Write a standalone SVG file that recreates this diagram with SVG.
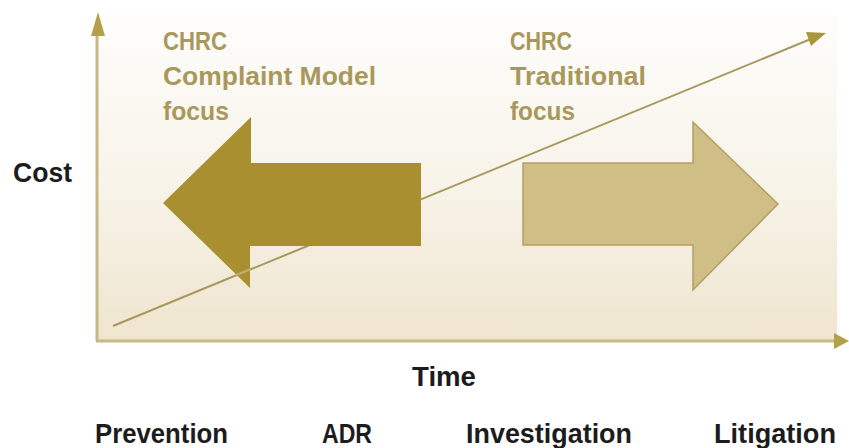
<svg xmlns="http://www.w3.org/2000/svg" width="849" height="448" viewBox="0 0 849 448">
<defs>
<linearGradient id="bg" x1="0" y1="0" x2="0" y2="1">
<stop offset="0" stop-color="#fefdfb"/>
<stop offset="0.5" stop-color="#f8f4ea"/>
<stop offset="1" stop-color="#efe5cf"/>
</linearGradient>
</defs>
<style>
.lbl{font-family:"Liberation Sans",Arial,sans-serif;font-weight:bold;font-size:28px;fill:#1c1c1c}
.foc{font-family:"Liberation Sans",Arial,sans-serif;font-weight:bold;font-size:26px;fill:#a8985c}
.axis{stroke:#c6b783;stroke-width:3;fill:none}
</style>
<rect x="97" y="15" width="740" height="326" fill="url(#bg)"/>
<g id="connectors">
<line x1="113" y1="326" x2="812" y2="38.5" stroke="#a8985c" stroke-width="2"/>
<polygon points="826,33 806,32 811,46" fill="#a8973a"/>
<line class="axis" x1="97" y1="341" x2="97" y2="32"/>
<polygon points="98,12 91,36 105,36" fill="#b5a04a"/>
<line class="axis" x1="96" y1="341" x2="836" y2="341"/>
<polygon points="849,341 834,333 834,349" fill="#b5a04a"/>
</g>
<g id="arrow-left">
<polygon points="163,203 251,117 251,163 421,163 421,246 250,246 250,288" fill="#a98f2f"/>
<line x1="236" y1="275" x2="251" y2="269" stroke="#c2b070" stroke-width="2"/>
</g>
<g id="arrow-right">
<polygon points="523,163 693,163 693,122 778,204 693,290 693,245 523,245" fill="#cfbf86" stroke="#b3a062" stroke-width="1.5"/>
</g>
<g id="label-complaint">
<text class="foc" x="163" y="50" textLength="64" lengthAdjust="spacingAndGlyphs">CHRC</text>
<text class="foc" x="163" y="85" textLength="213" lengthAdjust="spacingAndGlyphs">Complaint Model</text>
<text class="foc" x="163" y="120" textLength="66" lengthAdjust="spacingAndGlyphs">focus</text>
</g>
<g id="label-traditional">
<text class="foc" x="510" y="50" textLength="62" lengthAdjust="spacingAndGlyphs">CHRC</text>
<text class="foc" x="510" y="85" textLength="136" lengthAdjust="spacingAndGlyphs">Traditional</text>
<text class="foc" x="510" y="120" textLength="65" lengthAdjust="spacingAndGlyphs">focus</text>
</g>
<g id="label-cost"><text class="lbl" x="13" y="182" textLength="59" lengthAdjust="spacingAndGlyphs">Cost</text></g>
<g id="label-time"><text class="lbl" x="412" y="386" textLength="64" lengthAdjust="spacingAndGlyphs">Time</text></g>
<g id="label-prevention"><text class="lbl" x="95" y="443" textLength="133" lengthAdjust="spacingAndGlyphs">Prevention</text></g>
<g id="label-adr"><text class="lbl" x="322" y="443" textLength="50" lengthAdjust="spacingAndGlyphs">ADR</text></g>
<g id="label-investigation"><text class="lbl" x="466" y="443" textLength="166" lengthAdjust="spacingAndGlyphs">Investigation</text></g>
<g id="label-litigation"><text class="lbl" x="714" y="443" textLength="122" lengthAdjust="spacingAndGlyphs">Litigation</text></g>
</svg>
